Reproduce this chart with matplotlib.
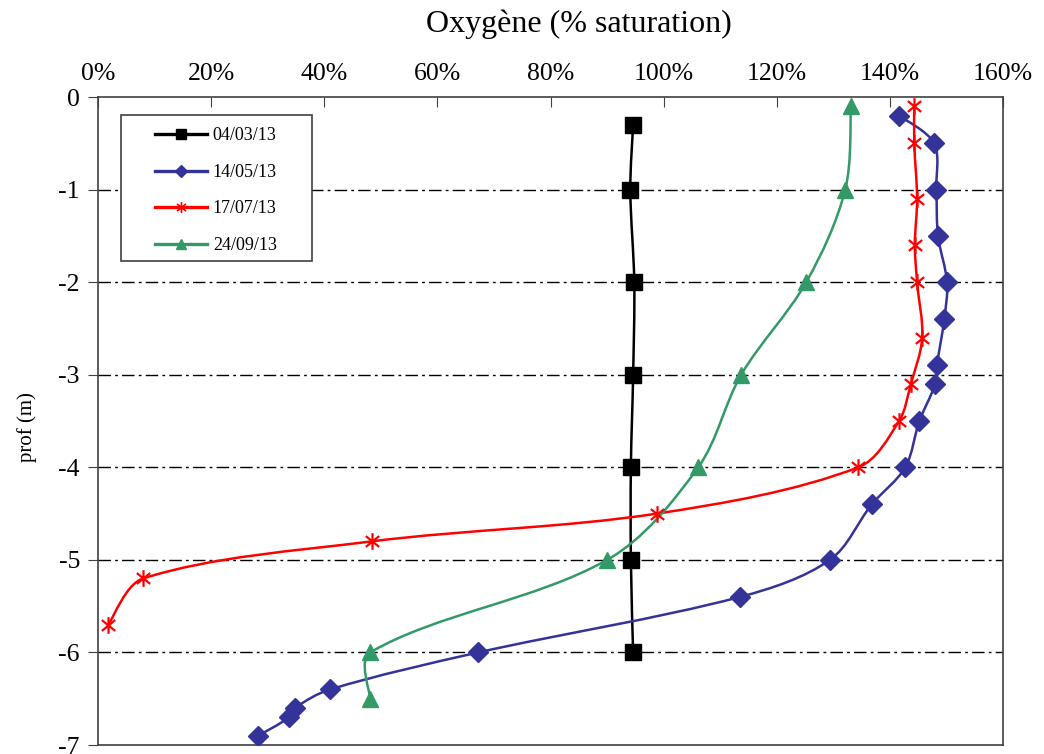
import matplotlib
matplotlib.use("Agg")
import matplotlib.pyplot as plt
from matplotlib.path import Path
from matplotlib.patches import PathPatch, Rectangle
from matplotlib.lines import Line2D
from matplotlib.ticker import FuncFormatter

plt.rcParams['font.family'] = ['Liberation Serif', 'DejaVu Serif']
plt.rcParams['axes.unicode_minus'] = False

# oxygen (% saturation) vs depth (m)
d_0403 = [-0.3, -1, -2, -3, -4, -5, -6]
o_0403 = [94.6, 94.1, 94.8, 94.6, 94.2, 94.2, 94.6]

d_1405 = [-0.2, -0.5, -1, -1.5, -2, -2.4, -2.9, -3.1, -3.5, -4, -4.4, -5, -5.4, -6, -6.4, -6.6, -6.7, -6.9]
o_1405 = [141.6, 147.8, 148.2, 148.5, 150.1, 149.6, 148.3, 148.0, 145.2, 142.7, 136.8, 129.4, 113.5, 67.2, 41.0, 34.8, 33.8, 28.3]

d_1707 = [-0.1, -0.5, -1.1, -1.6, -2, -2.6, -3.1, -3.5, -4, -4.5, -4.8, -5.2, -5.7]
o_1707 = [144.3, 144.3, 144.8, 144.4, 144.8, 145.7, 143.7, 141.6, 134.4, 98.8, 48.4, 8.0, 1.8]

d_2409 = [-0.1, -1, -2, -3, -4, -5, -6, -6.5]
o_2409 = [133.1, 132.1, 125.2, 113.7, 106.1, 90.0, 48.1, 48.1]

labels = ["04/03/13", "14/05/13", "17/07/13", "24/09/13"]
colors = ["black", "#333399", "#FF0000", "#339966"]

# asterisk marker like Excel's "*"
star = Path([(0, -1), (0, 1), (-0.8, -0.65), (0.8, 0.65), (-0.8, 0.65), (0.8, -0.65)],
            [Path.MOVETO, Path.LINETO, Path.MOVETO, Path.LINETO, Path.MOVETO, Path.LINETO])


def smooth_path(ax, xs, ys):
    # smoothed line like Excel: cubic Bezier through the points,
    # tangents weighted by segment lengths on screen
    pts = ax.transData.transform(list(zip(xs, ys)))
    n = len(pts)

    def dist(a, b):
        return ((a[0] - b[0]) ** 2 + (a[1] - b[1]) ** 2) ** 0.5

    def ctrl(i, j):
        # control point leaving point i towards neighbour j (j = i+1 or i-1)
        p = pts[i]
        prev_i, next_i = i - 1, i + 1
        if prev_i < 0 or next_i > n - 1:
            q = pts[j]
            return p + (q - p) / 6
        t = pts[next_i] - pts[prev_i]
        d_prev = dist(pts[prev_i], p)
        d_next = dist(p, pts[next_i])
        d_seg = d_next if j == next_i else d_prev
        f = d_seg / (d_prev + d_next) / 3
        return p + t * f if j == next_i else p - t * f

    verts = [pts[0]]
    codes = [Path.MOVETO]
    for i in range(n - 1):
        verts += [ctrl(i, i + 1), ctrl(i + 1, i), pts[i + 1]]
        codes += [Path.CURVE4] * 3
    inv = ax.transData.inverted()
    return Path(inv.transform(verts), codes)


fig = plt.figure(figsize=(10.44, 7.54), dpi=100)
ax = fig.add_axes([0.0939, 0.0119, 0.8669, 0.8594])
ax.set_xlim(0, 160)
ax.set_ylim(-7, 0)

series = [
    (o_0403, d_0403, 's', 11, None),
    (o_1405, d_1405, 'D', 10, None),
    (o_1707, d_1707, star, 12, 1.6),
    (o_2409, d_2409, '^', 12, None),
]

handles = []
for (xs, ys, mk, ms, mew), lab, c in zip(series, labels, colors):
    ax.add_patch(PathPatch(smooth_path(ax, xs, ys), fill=False, edgecolor=c, lw=1.8, zorder=3))
    if mk is star:
        ax.plot(xs, ys, linestyle='none', marker=mk, ms=ms, mec=c, mfc='none', mew=mew, zorder=4)
        handles.append(Line2D([], [], color=c, lw=2.4, marker=mk, ms=8, mec=c, mfc='none', mew=1.2))
    else:
        ax.plot(xs, ys, linestyle='none', marker=mk, ms=ms, mec=c, mfc=c, zorder=4)
        handles.append(Line2D([], [], color=c, lw=2.4, marker=mk, ms=ms * 0.65, mec=c, mfc=c))

ax.set_xticks(range(0, 161, 20))
ax.set_yticks(range(-7, 1))
ax.xaxis.set_major_formatter(FuncFormatter(lambda v, p: f"{int(v)}%"))
ax.xaxis.tick_top()
ax.tick_params(axis='x', direction='in', length=7, labelsize=18.5, pad=9, color='#404040')
ax.tick_params(axis='y', direction='out', length=7, labelsize=18.5, pad=6, color='#404040')

for s in ax.spines.values():
    s.set_color('#404040')
    s.set_linewidth(1.2)

for y in range(-6, 0):
    ax.axhline(y, color='black', lw=1.0, linestyle=(0, (9, 3, 2, 3)), zorder=1)

ax.set_xlabel("Oxygène (% saturation)", fontsize=23)
ax.xaxis.set_label_position('top')
ax.xaxis.set_label_coords(0.531, 1.112)
ax.xaxis.label.set_va('center')
ax.set_ylabel("prof (m)", fontsize=15)
ax.yaxis.set_label_coords(-0.067, 0.49)

# legend frame drawn separately so the padding matches the reference
ax.add_patch(Rectangle((0.0254, 0.7469), 0.2111, 0.2253, transform=ax.transAxes,
                       facecolor='white', edgecolor='#404040', lw=1.2, zorder=5))
leg = ax.legend(handles=handles, labels=labels, loc='upper left', bbox_to_anchor=(0.063, 0.953),
                borderaxespad=0, borderpad=0, fontsize=13, frameon=False, handlelength=2.9,
                labelspacing=1.08, handletextpad=0.3)
leg.set_zorder(6)

fig.savefig("out.png", dpi=100)
